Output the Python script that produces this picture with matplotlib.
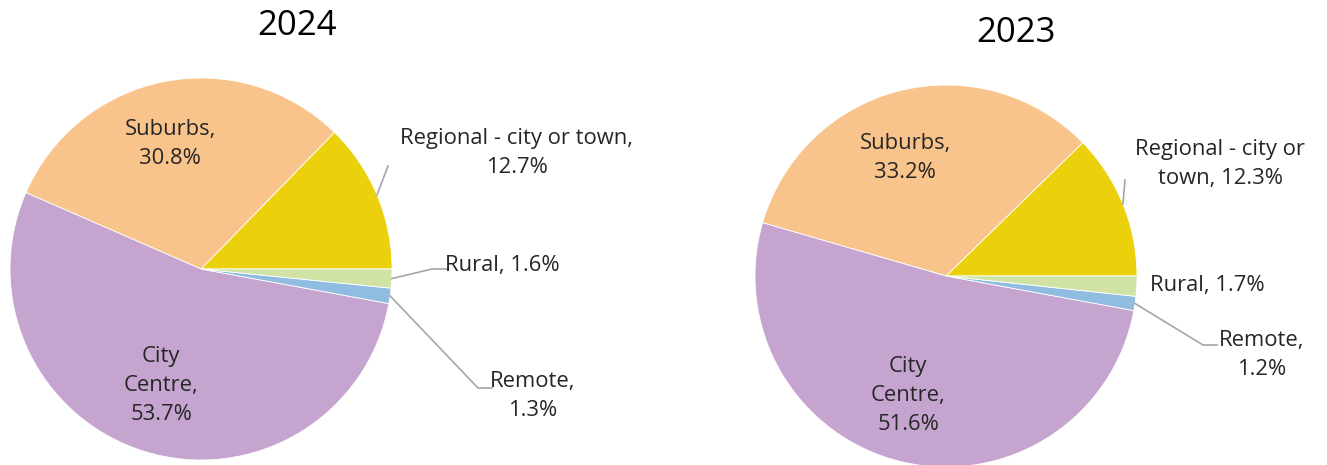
import numpy as np
import matplotlib
matplotlib.use("Agg")
import matplotlib.pyplot as plt

plt.rcParams["font.family"] = ["Open Sans", "DejaVu Sans"]

categories = ["Regional - city or town", "Suburbs", "City Centre", "Remote", "Rural"]
colors = ["#EBD10C", "#F9C48B", "#C5A5CF", "#8FBCE0", "#D0E3A4"]
values_2024 = [12.7, 30.8, 53.7, 1.3, 1.6]
values_2023 = [12.3, 33.2, 51.6, 1.2, 1.7]

W, H = 1327, 465
fig = plt.figure(figsize=(W / 100, H / 100), dpi=100)

# label text per year (line breaks as in the original)
labels_2024 = ["Regional - city or town,\n12.7%", "Suburbs,\n30.8%", "City\nCentre,\n53.7%",
               "Remote,\n1.3%", "Rural, 1.6%"]
labels_2023 = ["Regional - city or\ntown, 12.3%", "Suburbs,\n33.2%", "City\nCentre,\n51.6%",
               "Remote,\n1.2%", "Rural, 1.7%"]

# pixel layout: pie center, radius, label spots, leader bends
panels = [
    dict(year="2024", values=values_2024, labels=labels_2024, cx=201, cy=269, r=191,
         title=(297, 26),
         spots=[(517, 153), (170, 144), (161, 385), (533, 396), (502, 266)],
         leaders={0: [(388, 166)], 4: [(432, 269), (447, 269)], 3: [(478, 388), (492, 388)]}),
    dict(year="2023", values=values_2023, labels=labels_2023, cx=946, cy=276, r=191,
         title=(1016, 33),
         spots=[(1220, 164), (905, 158), (908, 395), (1262, 355), (1207, 285)],
         leaders={0: [(1125, 180)], 3: [(1203, 345), (1217, 345)]}),
]

for p in panels:
    ax = fig.add_axes([0, 0, 1, 1])
    cx, cy, r = p["cx"], p["cy"], p["r"]
    wedges, _ = ax.pie(p["values"], colors=colors, startangle=0, counterclock=True,
                       wedgeprops=dict(linewidth=0.6, edgecolor="white"))
    ax.set_xlim(-cx / r, (W - cx) / r)
    ax.set_ylim(-(H - cy) / r, cy / r)
    ax.set_aspect("auto")
    ax.axis("off")

    def px(x, y):
        return (x - cx) / r, (cy - y) / r

    for i, w in enumerate(wedges):
        tx, ty = px(*p["spots"][i])
        ax.text(tx, ty, p["labels"][i], ha="center", va="center", fontsize=15.8,
                color="#262626", linespacing=1.5)
        if i in p["leaders"]:
            mid = np.deg2rad((w.theta1 + w.theta2) / 2)
            xs = [np.cos(mid)]
            ys = [np.sin(mid)]
            for bx, by in p["leaders"][i]:
                qx, qy = px(bx, by)
                xs.append(qx)
                ys.append(qy)
            ax.plot(xs, ys, color="#A6A6A6", linewidth=1.2)

    tx, ty = px(*p["title"])
    ax.text(tx, ty, p["year"], ha="center", va="center", fontsize=25, color="black")

fig.savefig("out.png", dpi=100)
